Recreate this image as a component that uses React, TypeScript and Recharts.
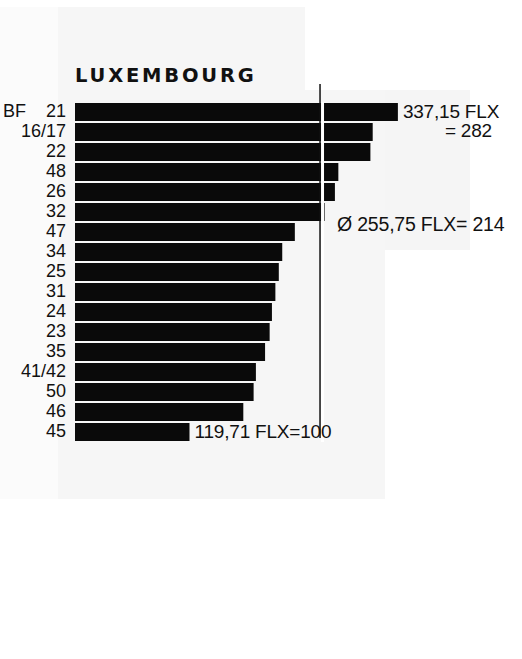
import { BarChart, Bar, XAxis, YAxis, ReferenceLine, ReferenceDot, LabelList } from "recharts"

const title = "LUXEMBOURG"
const regions = ["21", "16/17", "22", "48", "26", "32", "47", "34", "25", "31", "24", "23", "35", "41/42", "50", "46", "45"]
const indexValues = [282, 260, 258, 230, 227, 218, 192, 181, 178, 175, 172, 170, 166, 158, 156, 147, 100]
const rowPrefix: Record<string, string> = { "21": "BF" }
const barNotes: Record<string, string[]> = {
  "21": ["337,15 FLX", "= 282"],
  "45": ["119,71 FLX=100"]
}
const averageValue = 214
const averageLabel = "Ø 255,75 FLX= 214"
const averageRow = "47"

const data = regions.map((r, i) => ({ region: r, value: indexValues[i] }))

const FONT = "'Liberation Sans', Arial, sans-serif"
const INK = "#111"

const RegionTick = (props: any) => {
  const { x, y, payload } = props
  const prefix = rowPrefix[payload.value]
  return (
    <g>
      {prefix && (
        <text x={x - 63} y={y} dy={5} fontSize={18} fontFamily={FONT} fill={INK}>
          {prefix}
        </text>
      )}
      <text x={x} y={y} dy={5} textAnchor="end" fontSize={18} fontFamily={FONT} fill={INK}>
        {payload.value}
      </text>
    </g>
  )
}

const BarNote = (props: any) => {
  const { x, y, width, height, index } = props
  const lines = barNotes[regions[index]]
  if (!lines) return null
  const cy = y + height / 2
  return (
    <g>
      {lines.map((t, i) => (
        <text
          key={i}
          x={x + width + 5 + (i > 0 ? 42 : 0)}
          y={cy + 6 + i * 19}
          fontSize={19}
          fontFamily={FONT}
          fill={INK}
          letterSpacing={-0.2}
        >
          {t}
        </text>
      ))}
    </g>
  )
}

const AverageLine = (props: any) => {
  const { x1, y1, y2 } = props
  return (
    <g>
      <line x1={x1 + 2.5} x2={x1 + 2.5} y1={y1} y2={y2} stroke="#fff" strokeWidth={3} />
      <line x1={x1} x2={x1} y1={y1 - 4} y2={y2 - 18} stroke={INK} strokeWidth={1.5} />
    </g>
  )
}

const AverageNote = (props: any) => {
  const { viewBox } = props
  const cx = viewBox.x + (viewBox.width || 0) / 2
  const cy = viewBox.y + (viewBox.height || 0) / 2
  return (
    <text x={cx + 17} y={cy - 1} fontSize={19.5} fontFamily={FONT} fill={INK} letterSpacing={-0.2}>
      {averageLabel}
    </text>
  )
}

export default function App() {
  return (
    <div style={{ position: "absolute", left: 0, top: 0, width: 522, height: 659, background: "#fff" }}>
      <div style={{ position: "absolute", left: 0, top: 7, width: 58, height: 492, background: "#fbfbfb" }} />
      <div style={{ position: "absolute", left: 58, top: 7, width: 327, height: 492, background: "#f6f6f6" }} />
      <div style={{ position: "absolute", left: 305, top: 7, width: 80, height: 83, background: "#fff" }} />
      <div style={{ position: "absolute", left: 385, top: 90, width: 85, height: 160, background: "#f5f5f5" }} />
      <div
        style={{
          position: "absolute",
          left: 75,
          top: 64,
          fontFamily: "'DejaVu Sans', sans-serif",
          fontWeight: 700,
          fontSize: 19.5,
          letterSpacing: 2.8,
          color: INK
        }}
      >
        {title}
      </div>
      <div style={{ position: "absolute", left: 0, top: 0 }}>
        <BarChart
          width={522}
          height={659}
          data={data}
          layout="vertical"
          margin={{ top: 102, right: 103.5, bottom: 217, left: 0 }}
          barCategoryGap={1}
        >
          <XAxis type="number" domain={[0, 300]} hide />
          <YAxis
            type="category"
            dataKey="region"
            width={75}
            axisLine={false}
            tickLine={false}
            tickSize={0}
            tickMargin={9}
            interval={0}
            tick={<RegionTick />}
          />
          <Bar dataKey="value" fill="#0a0a0a" isAnimationActive={false}>
            <LabelList dataKey="value" content={<BarNote />} />
          </Bar>
          <ReferenceLine x={averageValue} shape={<AverageLine />} />
          <ReferenceDot x={averageValue} y={averageRow} r={0} fill="none" stroke="none" label={<AverageNote />} />
        </BarChart>
      </div>
    </div>
  )
}
